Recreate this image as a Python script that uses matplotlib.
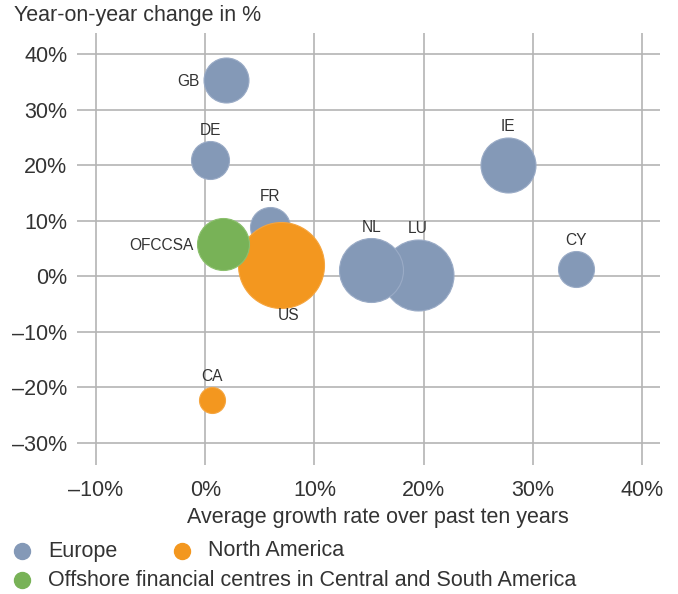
import matplotlib

matplotlib.use("Agg")
import matplotlib.pyplot as plt
from matplotlib.lines import Line2D
from matplotlib.ticker import FuncFormatter

plt.rcParams["font.family"] = ["Liberation Sans", "DejaVu Sans"]

# data (growth rate 10y, yoy change, bubble size ~ area)
countries = ["LU", "NL", "FR", "US", "OFCCSA", "GB", "DE", "IE", "CY", "CA"]
regions = ["Europe", "Europe", "Europe", "North America", "Offshore",
           "Europe", "Europe", "Europe", "Europe", "North America"]
growth_10y = [0.195, 0.152, 0.059, 0.069, 0.0165, 0.019, 0.0045, 0.277, 0.340, 0.0065]
yoy_change = [0.003, 0.011, 0.088, 0.021, 0.0575, 0.353, 0.209, 0.201, 0.013, -0.223]
bubble_size = [1260, 1024, 400, 1849, 676, 506, 361, 756, 324, 169]
label_side = ["above", "above", "above", "below", "left",
              "left", "above", "above", "above", "above"]

legend_names = ["Europe", "North America",
                "Offshore financial centres in Central and South America"]
legend_keys = ["Europe", "North America", "Offshore"]

COLORS = {"Europe": "#8499b7", "North America": "#f3971f", "Offshore": "#78b257"}
EDGES = {"Europe": "#9aabc6", "North America": "#f5a53f", "Offshore": "#8cc06e"}
TXT = "#333333"
FS = 15.5

W, H = 678, 594
fig = plt.figure(figsize=(W / 100, H / 100), dpi=100)
ax = fig.add_axes([77 / W, 1 - 465 / H, 583 / W, 432 / H])

PX = 0.72  # points per pixel
for name, reg, x, y, s, side in zip(countries, regions, growth_10y, yoy_change,
                                    bubble_size, label_side):
    r_px = s ** 0.5
    ax.scatter([x], [y], s=(2 * r_px * PX) ** 2, color=COLORS[reg],
               edgecolors=EDGES[reg], linewidths=0.8, zorder=3)
    if side == "above":
        off, ha, va = (0, (r_px + 10.5) * PX), "center", "center"
    elif side == "below":
        off, ha, va = (8 * PX, -(r_px + 8) * PX), "center", "center"
    else:
        off, ha, va = (-(r_px + 4) * PX, -1.5 * PX), "right", "center"
    ax.annotate(name, (x, y), xytext=off, textcoords="offset points",
                ha=ha, va=va, fontsize=11.2, color=TXT, zorder=4)

ax.set_xlim(-0.1174, 0.4165)
ax.set_ylim(-0.3396, 0.4378)
ax.set_xticks([-0.1, 0.0, 0.1, 0.2, 0.3, 0.4])
ax.set_yticks([-0.3, -0.2, -0.1, 0.0, 0.1, 0.2, 0.3, 0.4])
pct = FuncFormatter(lambda v, _: f"{round(v * 100):d}%".replace("-", "\u2013"))
ax.xaxis.set_major_formatter(pct)
ax.yaxis.set_major_formatter(pct)
ax.tick_params(length=0, labelsize=FS, colors=TXT)
ax.tick_params(axis="y", pad=7)
ax.tick_params(axis="x", pad=11)
ax.grid(color="#b4b4b4", lw=1.2)
ax.set_axisbelow(True)
for sp in ax.spines.values():
    sp.set_visible(False)

fig.text(14 / W, 1 - 16 / H, "Year-on-year change in %", ha="left", va="center",
         fontsize=FS, color=TXT)
fig.text(378 / W, 1 - 517 / H, "Average growth rate over past ten years",
         ha="center", va="center", fontsize=FS, color=TXT)

# legend drawn by hand to match the two-row layout
leg_pos = [(22, 551), (182, 551), (22, 580)]
for (px, py), key, name in zip(leg_pos, legend_keys, legend_names):
    fig.add_artist(Line2D([px / W], [1 - py / H], marker="o", markersize=11.5,
                          color=COLORS[key], linestyle="none",
                          transform=fig.transFigure))
    fig.text((px + 26) / W, 1 - py / H, name, ha="left", va="center",
             fontsize=FS, color=TXT)

fig.savefig("out.png", dpi=100)
